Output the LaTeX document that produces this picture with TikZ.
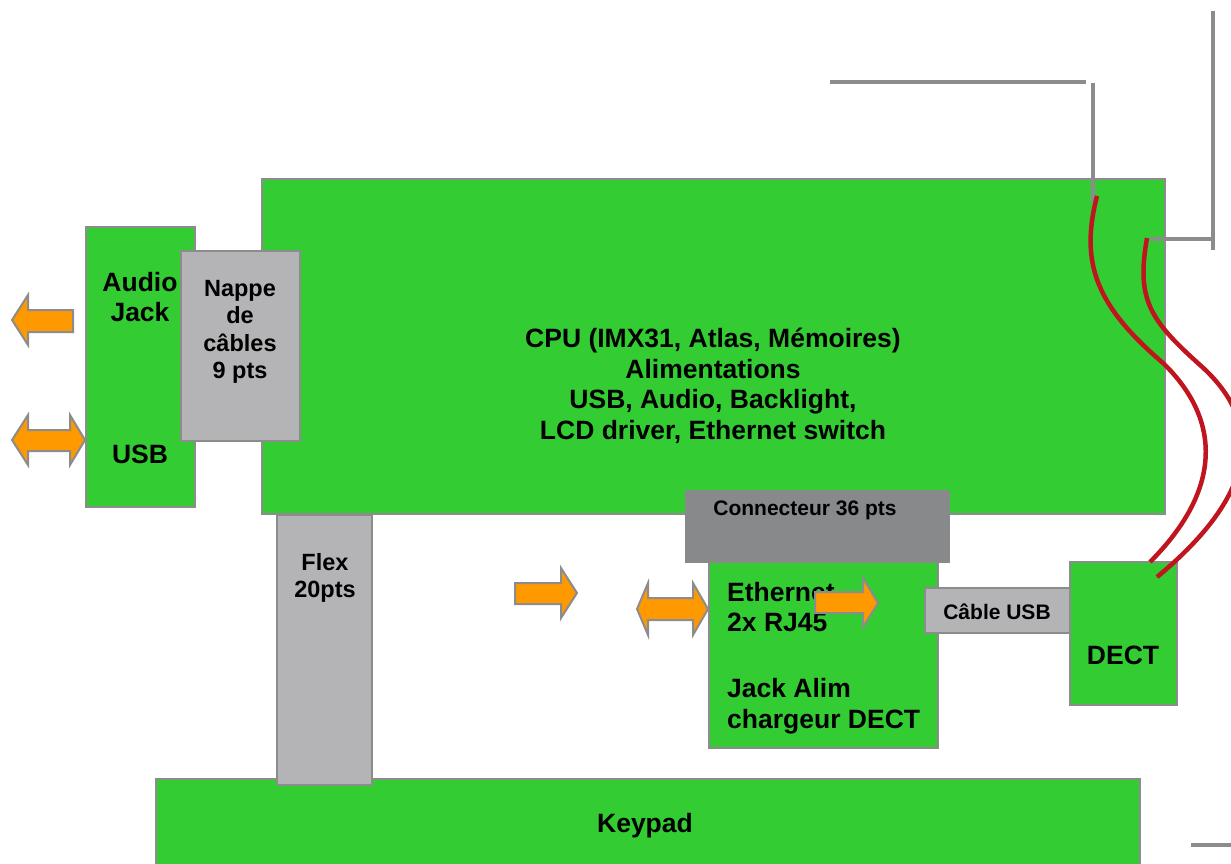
\documentclass[tikz,border=0pt]{standalone}
\usepackage{fontspec}
\setmainfont{Liberation Sans}
\definecolor{board}{HTML}{33CC33}
\definecolor{edge}{HTML}{8C8C8C}
\definecolor{nappe}{HTML}{B4B4B6}
\definecolor{conn}{HTML}{88898B}
\definecolor{arr}{HTML}{FF9900}
\definecolor{cable}{HTML}{C0141E}
\begin{document}
\begin{tikzpicture}[x=1pt,y=-1pt,
  boardbox/.style={draw=edge,line width=2pt,fill=board},
  greybox/.style={draw=edge,line width=2pt,fill=nappe},
  connbox/.style={fill=conn},
  lbl/.style={font=\bfseries\fontsize{26.5}{30.5}\selectfont,align=center,inner sep=0},
  mid/.style={font=\bfseries\fontsize{23.5}{27.5}\selectfont},
  small/.style={font=\bfseries\fontsize{21}{24}\selectfont},
  blk/.style={draw=edge,line width=2pt,fill=arr,line join=miter},
  wire/.style={draw=edge,line width=4.5pt},
  redwire/.style={draw=cable,line width=4.5pt}]
\useasboundingbox (0,0) rectangle (1231,864);
\clip (0,0) rectangle (1231,864);
% boards
\draw[boardbox] (262,179) rectangle (1165,514);
\coordinate (cpuc) at (713,386);
\node[lbl] (cpu) at (cpuc) {CPU (IMX31, Atlas, Mémoires)\\Alimentations\\USB, Audio, Backlight,\\LCD driver, Ethernet switch};
\draw[boardbox] (86,227) rectangle (195,507);
\node[lbl] (audio) at (140,297) {Audio\\Jack};
\node[lbl] (usb) at (140,454) {USB};
\draw[greybox] (181,251) rectangle (300,441);
\node[lbl,mid] (nappe) at (240,332) {Nappe\\de\\câbles\\9 pts};
\draw[boardbox] (156,779) rectangle (1140,870);
\node[lbl] (keypad) at (645,826) {Keypad};
\draw[greybox] (277,515) rectangle (372,785);
\node[lbl,mid] (flex) at (325,578) {Flex\\20pts};
\draw[boardbox] (709,556) rectangle (938,748);
\fill[connbox] (685,490) rectangle (950,563);
\node[lbl,small] (conn) at (805,510) {Connecteur 36 pts};
\node[lbl,align=left,anchor=west] (eth) at (727,607) {Ethernet\\2x RJ45};
\node[lbl,align=left,anchor=west] (jack) at (727,706) {Jack Alim\\chargeur DECT};
\draw[greybox] (925,588) rectangle (1070,633);
\node[lbl,small] (cusb) at (997,612) {Câble USB};
\draw[boardbox] (1070,562) rectangle (1177,705);
\node[lbl] (dect) at (1123,655) {DECT};
% antenna wires
\draw[wire] (830,82) -- (1086,82);
\draw[wire] (1093,83) -- (1093,202);
\draw[wire] (1213,11) -- (1213,250);
\draw[wire] (1150,239) -- (1213,239);
\draw[wire] (1191,845) -- (1231,845);
% red cables
\draw[redwire] (1097,196) .. controls (1080,262) and (1095,305) .. (1163,363) .. controls (1222,420) and (1222,490) .. (1150,562);
\draw[redwire] (1147,238) .. controls (1136,300) and (1150,320) .. (1200,365) .. controls (1262,420) and (1262,490) .. (1157,577);
% block arrows
\draw[blk] (12,320) -- (28,295) -- (28,310) -- (73,310) -- (73,332) -- (28,332) -- (28,345) -- cycle;
\draw[blk] (12,440) -- (28,415) -- (28,430) -- (70,430) -- (70,415) -- (85,440) -- (70,465) -- (70,451) -- (28,451) -- (28,465) -- cycle;
\draw[blk] (577,593) -- (561,568) -- (561,583) -- (515,583) -- (515,604) -- (561,604) -- (561,618) -- cycle;
\draw[blk] (637,609) -- (648,583) -- (648,598) -- (693,598) -- (693,583) -- (708,609) -- (693,635) -- (693,620) -- (648,620) -- (648,635) -- cycle;
\draw[blk] (878,603) -- (863,578) -- (863,592) -- (815,592) -- (815,613) -- (863,613) -- (863,627) -- cycle;
\end{tikzpicture}
\end{document}
